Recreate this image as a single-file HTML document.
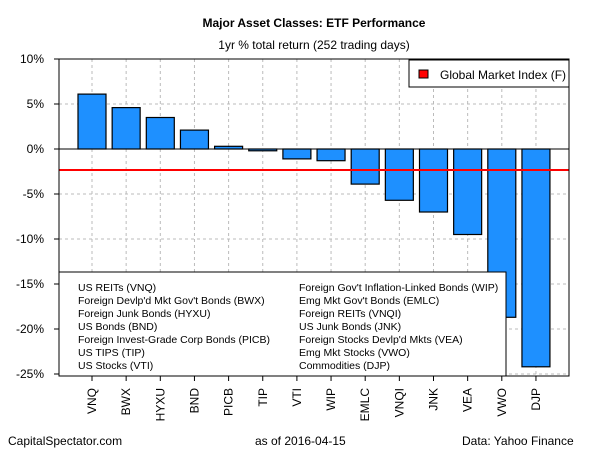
<!DOCTYPE html>
<html><head><meta charset="utf-8"><style>
body{margin:0;background:#fff;overflow:hidden;}
svg text{font-family:"Liberation Sans",Arial,sans-serif;fill:#000;}
</style></head><body>
<svg id="chart" width="600" height="450" xmlns="http://www.w3.org/2000/svg">
<rect width="600" height="450" fill="#fff"/>
<text x="314" y="27" font-size="12" font-weight="bold" text-anchor="middle">Major Asset Classes: ETF Performance</text>
<text x="314" y="49" font-size="12" text-anchor="middle">1yr % total return (252 trading days)</text>
<g id="grid"></g>
<g id="bars"></g>
<g id="axes"></g>
<text x="8" y="445" font-size="12">CapitalSpectator.com</text>
<text x="255" y="445" font-size="12">as of   2016-04-15</text>
<text x="462" y="445" font-size="12">Data: Yahoo Finance</text>
</svg>
<script>
const categories=["VNQ","BWX","HYXU","BND","PICB","TIP","VTI","WIP","EMLC","VNQI","JNK","VEA","VWO","DJP"];
const values=[6.1,4.6,3.5,2.1,0.3,-0.2,-1.1,-1.3,-3.9,-5.7,-7.0,-9.5,-18.7,-24.2];
const benchmark=[-2.33];
const yTicks=[10,5,0,-5,-10,-15,-20,-25];
const legendLeft=["US REITs (VNQ)","Foreign Devlp'd Mkt Gov't Bonds (BWX)","Foreign Junk Bonds (HYXU)","US Bonds (BND)","Foreign Invest-Grade Corp Bonds (PICB)","US TIPS (TIP)","US Stocks (VTI)"];
const legendRight=["Foreign Gov't Inflation-Linked Bonds (WIP)","Emg Mkt Gov't Bonds (EMLC)","Foreign REITs (VNQI)","US Junk Bonds (JNK)","Foreign Stocks Devlp'd Mkts (VEA)","Emg Mkt Stocks (VWO)","Commodities (DJP)"];

const NS="http://www.w3.org/2000/svg";
const L=59,R=569,T=59,B=376;
function yPos(v){return 149-v*9;}
function xPos(i){return 92+i*34.15;}
function mk(tag,attrs,parent){const e=document.createElementNS(NS,tag);for(const k in attrs)e.setAttribute(k,attrs[k]);parent.appendChild(e);return e;}
const gridG=document.getElementById('grid'),barsG=document.getElementById('bars'),axesG=document.getElementById('axes');
yTicks.forEach(function(t){
  const gl=mk('line',{x1:L,x2:R,y1:yPos(t),y2:yPos(t),stroke:'#bbb','stroke-dasharray':'3,3'},gridG);
  
  
  const tk=mk('line',{x1:L-5,x2:L,y1:yPos(t),y2:yPos(t),stroke:'#000'},axesG);
  
  
  const yl=mk('text',{x:L-15,y:yPos(t)+4,'font-size':12,'text-anchor':'end'},axesG);
  yl.textContent=String(t)+'%';
  
  
});
for(let i=0;i<categories.length;i++){
  const gl=mk('line',{x1:xPos(i),x2:xPos(i),y1:T,y2:B,stroke:'#bbb','stroke-dasharray':'3,3'},gridG);
  
  
}
mk('line',{x1:L,x2:R,y1:yPos(0),y2:yPos(0),stroke:'#000'},barsG);
for(let i=0;i<values.length;i++){
  const v=values[i];
  const top=Math.min(yPos(v),yPos(0)),h=Math.max(Math.abs(yPos(v)-yPos(0)),1);
  const b=mk('rect',{x:xPos(i)-14,y:top,width:28,height:h,fill:'#1e90ff',stroke:'#000','stroke-width':1.2},barsG);
  
  
  const tk=mk('line',{x1:xPos(i),x2:xPos(i),y1:B,y2:B+5,stroke:'#000'},axesG);
  
  
  const xl=mk('text',{x:0,y:0,'font-size':12,'text-anchor':'end',transform:'translate('+(xPos(i)+4)+','+(B+12)+') rotate(-90)'},axesG);
  xl.textContent=String(categories[i]);
  
  
}
const rl=mk('line',{x1:L,x2:R,y1:yPos(benchmark[0]),y2:yPos(benchmark[0]),stroke:'#f00','stroke-width':2},barsG);


const fr=mk('rect',{x:L,y:T,width:R-L,height:B-T,fill:'none',stroke:'#000'},axesG);


const lg=mk('g',{},axesG);


mk('rect',{x:409,y:60,width:160,height:27,fill:'#fff',stroke:'#000'},lg);
mk('rect',{x:419,y:70,width:9,height:8,fill:'#f00',stroke:'#000'},lg);
const lt=mk('text',{x:440,y:79,'font-size':12},lg);
lt.textContent='Global Market Index (F)';
const bl=mk('g',{},axesG);


mk('rect',{x:L,y:272,width:447,height:104,fill:'#fff',stroke:'#000'},bl);
for(let i=0;i<legendLeft.length;i++){
  const te=mk('text',{x:78,y:291+i*13,'font-size':10.5},bl);
  te.textContent=String(legendLeft[i]);
  
  
}
for(let i=0;i<legendRight.length;i++){
  const te=mk('text',{x:299,y:291+i*13,'font-size':10.5},bl);
  te.textContent=String(legendRight[i]);
  
  
}
</script>
</body></html>
